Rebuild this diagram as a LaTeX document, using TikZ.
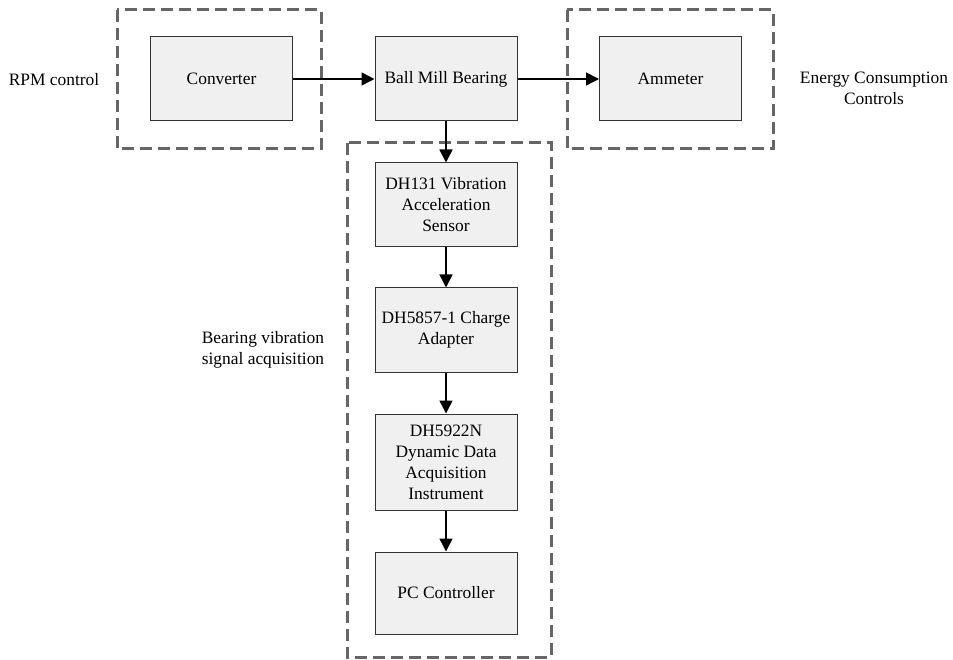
\documentclass[tikz,border=0pt]{standalone}
\usepackage{fontspec}
\setmainfont{Liberation Serif}
\usetikzlibrary{arrows.meta}
\definecolor{boxfill}{HTML}{F0F0F0}
\definecolor{boxline}{HTML}{333333}
\definecolor{dashgray}{HTML}{666666}
\tikzset{
  blk/.style={draw=boxline, line width=1pt, fill=boxfill, minimum width=142pt, minimum height=84pt, inner sep=2pt, align=center, font=\fontsize{17.4}{21}\selectfont},
  grp/.style={draw=dashgray, line width=3pt, dash pattern=on 12pt off 6pt},
  lbl/.style={align=center, font=\fontsize{17.4}{21}\selectfont},
  arr/.style={line width=1.5pt, -{Triangle[length=13pt,width=13pt]}}
}
\begin{document}
\begin{tikzpicture}[x=1pt,y=-1pt]
\useasboundingbox (0,0) rectangle (953,660);
\draw[grp] (117,10) rectangle (321,149);
\draw[grp] (567,10) rectangle (773,149);
\draw[grp] (347,143) rectangle (551,657);
\node[blk] (conv) at (221.5,79) {Converter};
\node[blk] (ball) at (446,79) {Ball Mill Bearing};
\node[blk] (amm) at (670.5,79) {Ammeter};
\node[blk] (sens) at (446,205) {DH131 Vibration\\Acceleration\\Sensor};
\node[blk] (chg) at (446,330) {DH5857-1 Charge\\Adapter};
\node[blk, minimum height=96pt] (daq) at (446,462) {DH5922N\\Dynamic Data\\Acquisition\\Instrument};
\node[blk, minimum height=82pt] (pc) at (446,593) {PC Controller};
\node[lbl] (rpm) at (54,80) {RPM control};
\node[lbl] (ecc) at (874,88) {Energy Consumption\\Controls};
\node[lbl] (bvs) at (263,350) {Bearing vibration\\signal acquisition};
\draw[arr] (conv) -- (ball);
\draw[arr] (ball) -- (amm);
\draw[arr] (ball) -- (sens);
\draw[arr] (sens) -- (chg);
\draw[arr] (chg) -- (daq);
\draw[arr] (daq) -- (pc);
\end{tikzpicture}
\end{document}
